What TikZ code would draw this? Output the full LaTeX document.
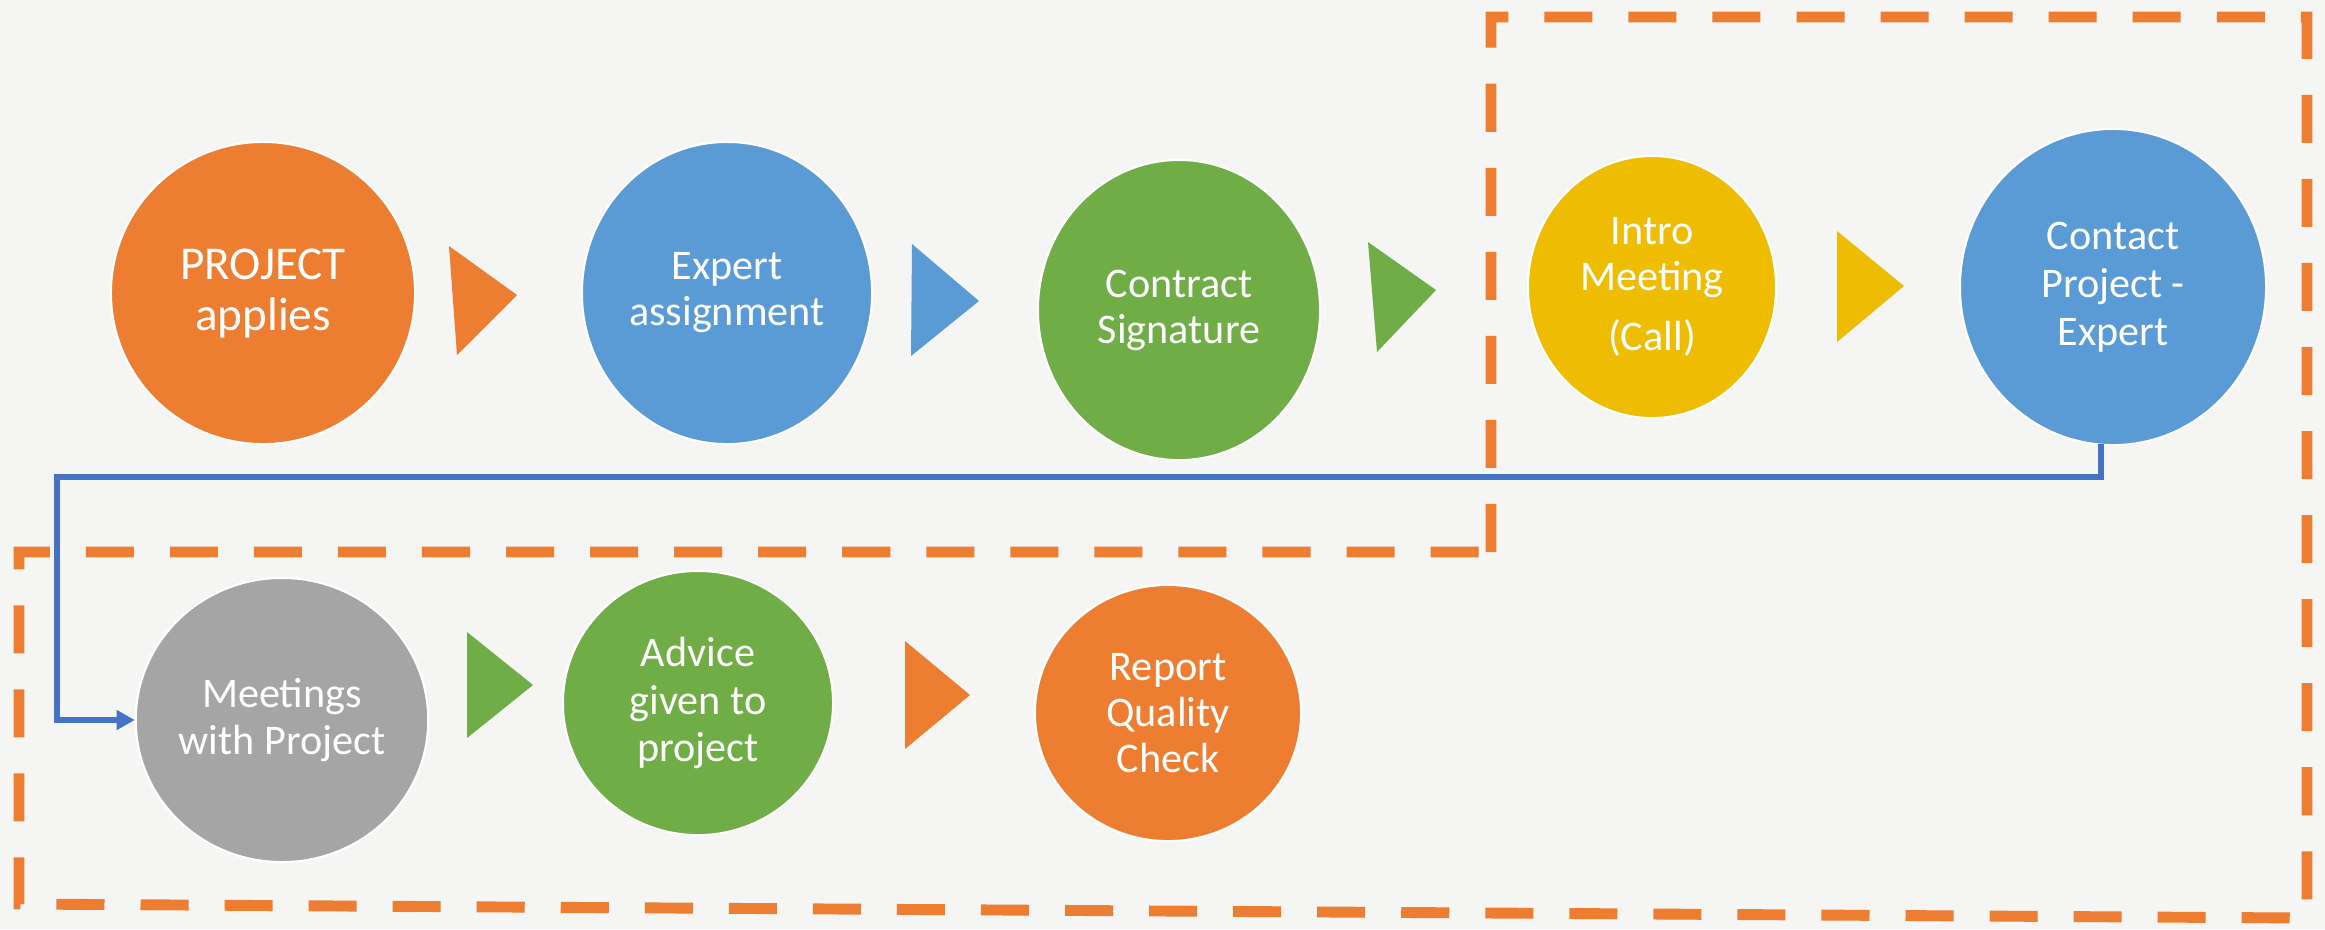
\documentclass[tikz,border=0pt]{standalone}
\usepackage{fontspec}
\setmainfont{Carlito}
\usetikzlibrary{shapes.geometric,arrows.meta,positioning}

\definecolor{naranja}{HTML}{ED7D31}
\definecolor{azul}{HTML}{5B9BD5}
\definecolor{verde}{HTML}{70AD47}
\definecolor{amarillo}{HTML}{EEBC00}
\definecolor{gris}{HTML}{A5A5A5}
\definecolor{linea}{HTML}{4472C4}
\definecolor{fondo}{HTML}{F5F5F4}

\begin{document}
\begin{tikzpicture}[x=0.01cm, y=-0.01cm]

	\tikzstyle{paso}=[ellipse, draw=white, line width=0.6pt, inner sep=0pt, text=white, align=center, font=\fontsize{12}{13.1}\selectfont]
	\tikzstyle{flujo}=[linea, line width=1.6pt, -{Triangle[length=0.18cm, width=0.19cm]}]
	\tikzstyle{marco}=[naranja, line width=3.1pt, dash pattern=on 0.48cm off 0.36cm]

	\useasboundingbox (0,0) rectangle (2325,929);
	\fill[fondo] (0,0) rectangle (2325,929);

	\coordinate (s_1_1) at (263,293); % FILA 1
	\coordinate (s_1_2) at (727,293); % FILA 1
	\coordinate (s_1_3) at (1179,310); % FILA 1
	\coordinate (s_1_4) at (1652,287); % FILA 1
	\coordinate (s_1_5) at (2113,287); % FILA 1
	\coordinate (s_2_1) at (282,720); % FILA 2
	\coordinate (s_2_2) at (698,703); % FILA 2
	\coordinate (s_2_3) at (1168,713); % FILA 2

	\node[paso, fill=naranja, minimum width=3.04cm, minimum height=3.02cm, font=\fontsize{13.4}{14.5}\selectfont] (s_1_1) at (s_1_1) {PROJECT\\applies};
	\node[paso, fill=azul, minimum width=2.90cm, minimum height=3.02cm] (s_1_2) at (s_1_2) {Expert\\assignment};
	\node[paso, fill=verde, minimum width=2.82cm, minimum height=3.00cm] (s_1_3) at (s_1_3) {Contract\\Signature};
	\node[paso, fill=amarillo, minimum width=2.48cm, minimum height=2.62cm] (s_1_4) at (s_1_4) {Intro\\Meeting\\[4pt](Call)};
	\node[paso, fill=azul, minimum width=3.06cm, minimum height=3.16cm, font=\fontsize{12}{13.6}\selectfont] (s_1_5) at (s_1_5) {Contact\\Project -\\Expert};
	\node[paso, fill=gris, minimum width=2.90cm, minimum height=2.84cm] (s_2_1) at (s_2_1) {Meetings\\with Project};
	\node[paso, fill=verde, minimum width=2.70cm, minimum height=2.64cm, font=\fontsize{12}{13.4}\selectfont] (s_2_2) at (s_2_2) {Advice\\given to\\project};
	\node[paso, fill=naranja, minimum width=2.66cm, minimum height=2.56cm, font=\fontsize{12}{13.1}\selectfont] (s_2_3) at (s_2_3) {Report\\Quality\\Check};

	% flechas entre pasos
	\fill[naranja] (449,246) -- (517,295) -- (457,355) -- cycle;
	\fill[azul] (912,244) -- (979,301) -- (911,356) -- cycle;
	\fill[verde] (1368,242) -- (1436,290) -- (1377,352) -- cycle;
	\fill[amarillo] (1837,231) -- (1904,286) -- (1837,342) -- cycle;
	\fill[verde] (467,632) -- (533,685) -- (467,738) -- cycle;
	\fill[naranja] (905,641) -- (970,695) -- (905,749) -- cycle;

	\coordinate (b_1) at (2101,444);
	\coordinate (b_2) at (2101,477);
	\coordinate (b_3) at (57,477);

	\draw[flujo] (b_1) -- (b_2) -- (b_3) |- (s_2_1.west);

	\draw[marco] (1491,552) -- (1491,17) -- (2307,17) -- (2307,918) -- (19,904) -- (19,552) -- cycle;

\end{tikzpicture}
\end{document}
